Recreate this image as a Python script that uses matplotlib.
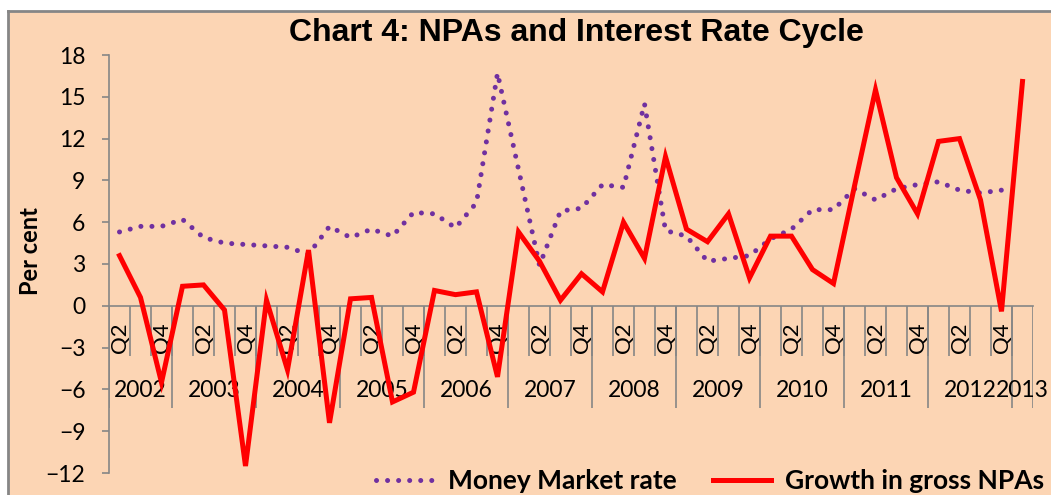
import numpy as np
import matplotlib.pyplot as plt
from matplotlib.patches import Rectangle
from matplotlib.lines import Line2D

# quarters from 2002 Q2 to 2013 Q1
years = ["2002", "2003", "2004", "2005", "2006", "2007", "2008",
         "2009", "2010", "2011", "2012", "2013"]
quarters_per_year = [3, 4, 4, 4, 4, 4, 4, 4, 4, 4, 4, 1]
first_quarter = 2

money_market = [5.3, 5.7, 5.7, 6.2, 4.9, 4.5, 4.4, 4.3, 4.2, 3.7,
                5.7, 4.9, 5.5, 5.0, 6.7, 6.6, 5.6, 7.4, 16.7, 9.8,
                2.9, 6.8, 7.0, 8.7, 8.5, 14.5, 5.4, 5.0, 3.2, 3.4,
                3.6, 4.8, 5.5, 6.9, 6.9, 8.4, 7.6, 8.4, 8.7, 8.9,
                8.3, 8.1, 8.3, np.nan]
npa_growth = [3.6, 0.6, -5.5, 1.4, 1.5, -0.3, -11.5, 0.4, -4.6, 4.0,
              -8.4, 0.5, 0.6, -6.9, -6.2, 1.1, 0.8, 1.0, -5.1, 5.3,
              3.2, 0.4, 2.3, 1.0, 6.0, 3.4, 10.7, 5.5, 4.6, 6.6,
              2.0, 5.0, 5.0, 2.6, 1.6, 8.6, 15.5, 9.2, 6.6, 11.8,
              12.0, 7.6, -0.4, 16.1]

bg = "#FCD5B4"
grey = "#868686"
purple = "#7030A0"
red = "#FF0000"

plt.rcParams["font.family"] = ["Lato", "DejaVu Sans"]

fig = plt.figure(figsize=(10.51, 4.95), dpi=100)
fig.patch.set_facecolor("white")
W, H = 1051, 495
fig.patches.append(Rectangle((8 / W, 0), 1, 1 - 10.5 / H, transform=fig.transFigure,
                             facecolor=bg, edgecolor="none", zorder=-10))
fig.add_artist(Line2D([8 / W, 1], [1 - 10.5 / H] * 2, transform=fig.transFigure,
                      color=grey, lw=2, zorder=-5))
fig.add_artist(Line2D([8 / W] * 2, [0, 1 - 10.5 / H], transform=fig.transFigure,
                      color=grey, lw=2, zorder=-5))

ax = fig.add_axes([109 / W, 1 - 473 / H, (1033 - 109) / W, (473 - 55) / H])
ax.set_facecolor("none")
ax.set_zorder(1)

n = len(npa_growth)
x = np.arange(n)
dots = (0, (0.01, 2.2))
ax.plot(x, money_market, color=purple, lw=3.6, linestyle=dots,
        dash_capstyle="round", zorder=3)
ax.plot(x, npa_growth, color=red, lw=3.6, solid_joinstyle="miter", zorder=4)

ax.set_xlim(-0.5, n - 0.5)
ax.set_ylim(-12, 18)
ax.set_yticks(np.arange(-12, 19, 3))
ax.tick_params(axis="y", direction="out", length=5, width=1.2, color=grey,
               labelsize=16.5, pad=12)
ax.set_xticks([])
for s in ["top", "right"]:
    ax.spines[s].set_visible(False)
ax.spines["left"].set_color(grey)
ax.spines["left"].set_linewidth(1.2)
ax.spines["bottom"].set_position(("data", 0))
ax.spines["bottom"].set_color(grey)
ax.spines["bottom"].set_linewidth(1.2)

# multi-level category axis
ax.vlines(x[1:] - 0.5, -3.6, 0, color=grey, lw=1.2, zorder=2)
edges = np.concatenate([[0], np.cumsum(quarters_per_year)]) - 0.5
ax.vlines(edges, -7.3, 0, color=grey, lw=1.2, zorder=2)
q = first_quarter
for i in range(n):
    if q % 2 == 0:
        ax.text(i, -2.3, "Q%d" % q, rotation=90, ha="center", va="center", fontsize=16)
    q = q % 4 + 1
for yr, a, b in zip(years, edges[:-1], edges[1:]):
    ax.text((a + b) / 2, -6.1, yr, ha="center", va="center", fontsize=16.5)

fig.text(30 / W, 1 - 251 / H, "Per cent", rotation=90, ha="center", va="center",
         fontsize=17, fontweight="bold")
fig.text(576 / W, 1 - 33 / H, "Chart 4: NPAs and Interest Rate Cycle", ha="center",
         va="center", fontsize=23, fontweight="bold", family="Liberation Sans")

handles = [Line2D([], [], color=purple, lw=3.6, linestyle=dots,
                  dash_capstyle="round"),
           Line2D([], [], color=red, lw=3.6)]
fig.legend(handles, ["Money Market rate", "Growth in gross NPAs"], loc="center",
           bbox_to_anchor=(710 / W, 1 - 481 / H), ncol=2, frameon=False,
           prop={"size": 19, "weight": "bold"}, handlelength=2.2, columnspacing=1.4,
           handletextpad=0.5)

fig.savefig("out.png", dpi=100, facecolor=fig.get_facecolor())
